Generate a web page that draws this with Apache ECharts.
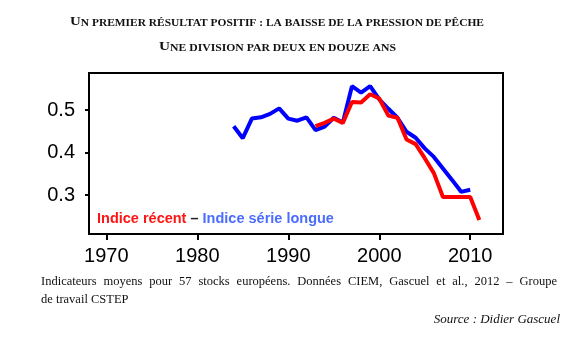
<!DOCTYPE html>
<html><head><meta charset="utf-8">
<script src="https://cdn.jsdelivr.net/npm/echarts@6/dist/echarts.min.js"></script>
<style>html,body{margin:0;padding:0;background:#fff}#c{width:569px;height:350px}</style>
</head><body><div id="c"></div>
<script>
// ---- data ----
const yearsLong = [1984,1985,1986,1987,1988,1989,1990,1991,1992,1993,1994,1995,1996,1997,1998,1999,2000,2001,2002,2003,2004,2005,2006,2007,2008,2009,2010];
const valuesLong = [0.462,0.434,0.480,0.483,0.491,0.504,0.480,0.475,0.483,0.453,0.461,0.482,0.471,0.556,0.541,0.556,0.525,0.503,0.482,0.449,0.435,0.410,0.390,0.363,0.336,0.308,0.313];
const yearsRecent = [1993,1994,1995,1996,1997,1998,1999,2000,2001,2002,2003,2004,2005,2006,2007,2008,2009,2010,2011];
const valuesRecent = [0.462,0.470,0.480,0.470,0.519,0.518,0.537,0.527,0.487,0.482,0.431,0.420,0.387,0.352,0.296,0.296,0.296,0.296,0.242];
const xTicks = [1970,1980,1990,2000,2010];
const yTicks = [0.3,0.4,0.5];
const titleLine1 = ['U','N PREMIER RÉSULTAT POSITIF : LA BAISSE DE LA PRESSION DE PÊCHE'];
const titleLine2 = ['U','NE DIVISION PAR DEUX EN DOUZE ANS'];
const legendRecent = 'Indice récent';
const legendSep = ' – ';
const legendLong = 'Indice série longue';
const caption1 = 'Indicateurs moyens pour 57 stocks européens. Données CIEM, Gascuel et al., 2012 – Groupe';
const caption2 = 'de travail CSTEP';
const sourceText = 'Source : Didier Gascuel';

// ---- helpers ----
const ctx = document.createElement('canvas').getContext('2d');
function measure(t, font){ ctx.font = font; return ctx.measureText(t).width; }
function txt(x, y, text, font, fill, align, valign, sx){
  return {type:'text', x:x, y:y, scaleX: sx||1, scaleY:1, originX:0, originY:0, silent:true,
    style:{text:text, font:font, fill:fill, textAlign:align, align:align, textVerticalAlign:valign, verticalAlign:valign}};
}
const TF_BIG = "bold 12.5px 'Liberation Serif'";
const TF_SMALL = "bold 9.6px 'Liberation Serif'";
function titleEls(parts, cx, width, y){
  const wB = measure(parts[0], TF_BIG), wS = measure(parts[1], TF_SMALL);
  const sx = width / (wB + wS);
  const x0 = cx - width/2;
  return [txt(x0, y, parts[0], TF_BIG, '#111', 'left', 'bottom', sx),
          txt(x0 + wB*sx, y, parts[1], TF_SMALL, '#111', 'left', 'bottom', sx)];
}
const CF = "12.5px 'Liberation Serif'";
function justified(text, x0, x1, y){
  const words = text.split(' ');
  const ws = words.map(w => measure(w, CF));
  const tot = ws.reduce((a,b)=>a+b,0);
  const gap = (x1 - x0 - tot) / (words.length - 1);
  const els = []; let x = x0;
  words.forEach((w,i)=>{ els.push(txt(x, y, w, CF, '#111', 'left', 'middle')); x += ws[i] + gap; });
  return els;
}
const LF = "bold 14.5px 'Liberation Sans'";
const lx0 = 97, ly = 219;
const w1 = measure(legendRecent, LF), w2 = measure(legendSep, LF);

const graphics = [].concat(
  titleEls(titleLine1, 277, 414, 28.5),
  titleEls(titleLine2, 277.5, 237, 53.5),
  [txt(lx0, ly, legendRecent, LF, '#ff1414', 'left', 'middle'),
   txt(lx0 + w1, ly, legendSep, LF, '#222', 'left', 'middle'),
   txt(lx0 + w1 + w2, ly, legendLong, LF, '#4a6cff', 'left', 'middle')],
  justified(caption1, 41, 557, 282),
  [txt(41, 300, caption2, CF, '#111', 'left', 'middle'),
   txt(560, 320, sourceText, "italic 13px 'Liberation Serif'", '#111', 'right', 'middle')]
);

const chart = echarts.init(document.getElementById('c'), null, {renderer:'canvas'});
chart.setOption({
  animation:false,
  backgroundColor:'#fff',
  grid:{left:89, right:66, top:73, bottom:116, show:true, borderColor:'#000', borderWidth:2, backgroundColor:'#fff'},
  xAxis:{type:'value', min:1968.1, max:2013.6,
    axisLine:{show:true, onZero:false, lineStyle:{color:'#000', width:2}},
    axisTick:{show:true, customValues:xTicks, length:6, lineStyle:{color:'#000', width:2}},
    axisLabel:{customValues:xTicks, fontSize:20, fontFamily:'Liberation Sans', color:'#000', margin:12,
      formatter: v => String(Math.round(v))},
    splitLine:{show:false}},
  yAxis:{type:'value', min:0.209, max:0.587,
    axisLine:{show:true, onZero:false, lineStyle:{color:'#000', width:2}},
    axisTick:{show:true, customValues:yTicks, length:4, lineStyle:{color:'#000', width:2}},
    axisLabel:{customValues:yTicks, fontSize:20, fontFamily:'Liberation Sans', color:'#000', margin:14,
      formatter: v => v.toFixed(1)},
    splitLine:{show:false}},
  series:[
    {type:'line', name:legendLong, data: yearsLong.map((y,i)=>[y, valuesLong[i]]), symbol:'none', showSymbol:false,
      lineStyle:{color:'#0000ff', width:4}, itemStyle:{color:'#0000ff'}, z:2},
    {type:'line', name:legendRecent, data: yearsRecent.map((y,i)=>[y, valuesRecent[i]]), symbol:'none', showSymbol:false,
      lineStyle:{color:'#ff0000', width:4}, itemStyle:{color:'#ff0000'}, z:3}
  ],
  graphic: graphics
});
</script></body></html>
